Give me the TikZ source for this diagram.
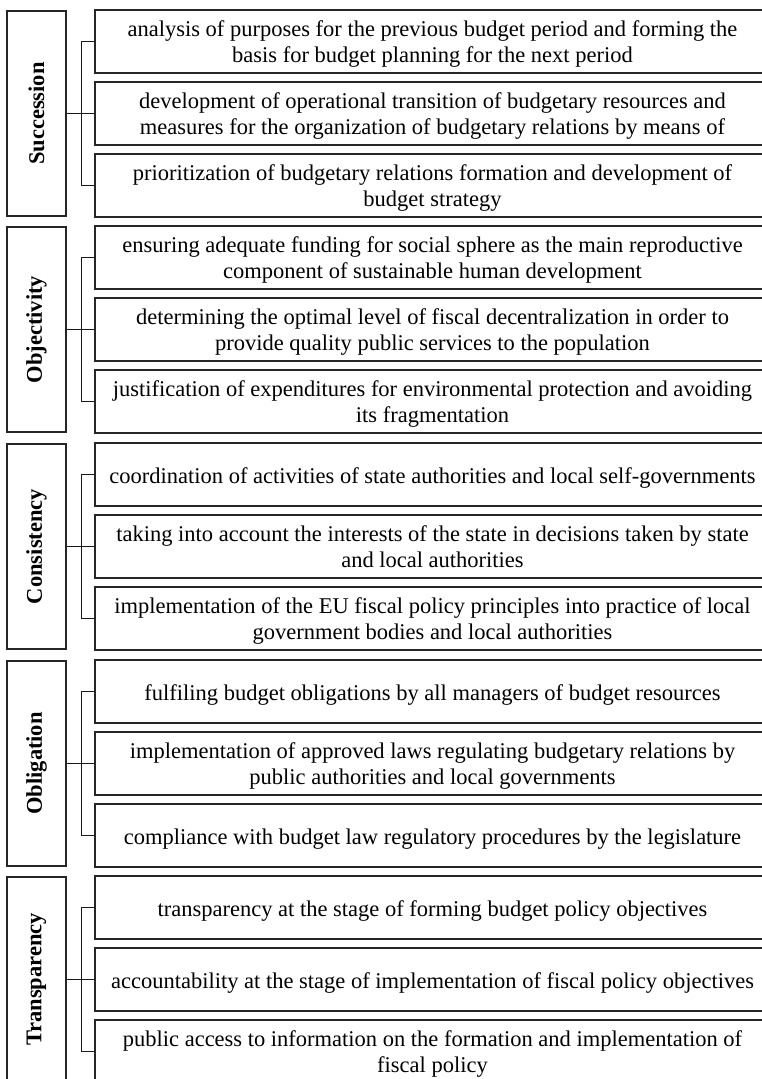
\documentclass[tikz,border=0pt]{standalone}
\usepackage{fontspec}
\setmainfont{Liberation Serif}
\tikzset{
  x=1pt, y=-1pt,
  labbox/.style={draw=black!85, line width=1.3pt, minimum width=59pt, minimum height=205pt, inner sep=0pt},
  labtext/.style={rotate=90, font=\fontsize{22.5}{25.5}\selectfont\bfseries, inner sep=0pt},
  itembox/.style={draw=black!85, line width=1.3pt, minimum width=675pt, minimum height=63pt, inner sep=0pt},
  itemtext/.style={align=center, inner sep=0pt, font=\fontsize{22.5}{25.5}\selectfont,
     execute at begin node=\strut, execute at end node=\strut},
  conn/.style={draw=black!90, line width=1pt},
}
\newcommand\mkgroup[6]{%
  \node[labbox] (#1L) at (36.5,#2+103.5) {};
  \node[labtext] (#1Lt) at (#1L.center) {#3};
  \node[itembox] (#1a) at (432.5,#2+31.5) {};
  \node[itembox] (#1b) at (432.5,#2+103.5) {};
  \node[itembox] (#1c) at (432.5,#2+175.5) {};
  \node[itemtext] (#1at) at ([yshift=-4pt]#1a.center) {#4};
  \node[itemtext] (#1bt) at ([yshift=-4pt]#1b.center) {#5};
  \node[itemtext] (#1ct) at ([yshift=-4pt]#1c.center) {#6};
  \coordinate (#1J) at (81,#2+103.5);
  \draw[conn] (#1L.east) -- (#1b.west);
  \draw[conn] (#1a.west) -- (#1a.west -| #1J) -- (#1c.west -| #1J) -- (#1c.west);
}
\begin{document}
\begin{tikzpicture}
\useasboundingbox (0,0) rectangle (762,1079);
\clip (0,0) rectangle (762,1079);
\fill[white] (0,0) rectangle (762,1079);
\mkgroup{s}{10}{Succession}
  {analysis of purposes for the previous budget period and forming the\\basis for budget planning for the next period}
  {development of operational transition of budgetary resources and\\measures for the organization of budgetary relations by means of}
  {prioritization of budgetary relations formation and development of\\budget strategy}
\mkgroup{o}{226}{Objectivity}
  {ensuring adequate funding for social sphere as the main reproductive\\component of sustainable human development}
  {determining the optimal level of fiscal decentralization in order to\\provide quality public services to the population}
  {justification of expenditures for environmental protection and avoiding\\its fragmentation}
\mkgroup{c}{443}{Consistency}
  {coordination of activities of state authorities and local self-governments}
  {taking into account the interests of the state in decisions taken by state\\and local authorities}
  {implementation of the EU fiscal policy principles into practice of local\\government bodies and local authorities}
\mkgroup{b}{660}{Obligation}
  {fulfiling budget obligations by all managers of budget resources}
  {implementation of approved laws regulating budgetary relations by\\public authorities and local governments}
  {compliance with budget law regulatory procedures by the legislature}
\mkgroup{t}{876}{Transparency}
  {transparency at the stage of forming budget policy objectives}
  {accountability at the stage of implementation of fiscal policy objectives}
  {public access to information on the formation and implementation of\\fiscal policy}
\end{tikzpicture}
\end{document}
